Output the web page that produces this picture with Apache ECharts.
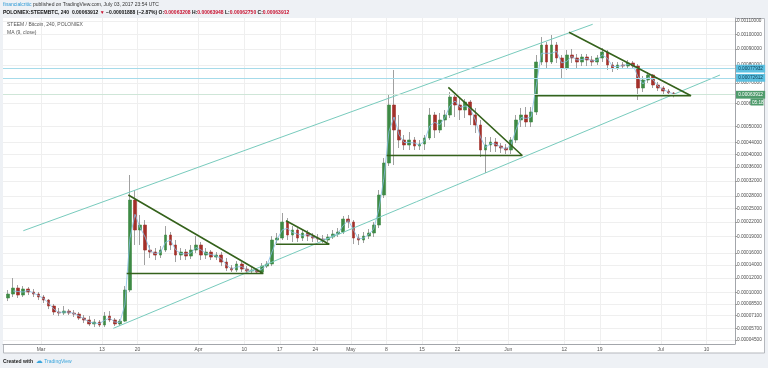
<!DOCTYPE html>
<html><head><meta charset="utf-8">
<script src="https://cdn.jsdelivr.net/npm/echarts@6/dist/echarts.min.js"></script>
<style>html,body{margin:0;padding:0;background:#eef1f5;}#c{width:768px;height:368px;}</style>
</head><body><div id="c"></div>
<script>
// ---- data (prices in satoshi, 1e-8 BTC), daily bars starting at firstDate ----
const firstDate = '2017-02-22';
const axisOrigin = '2017-03-01';
const open = [
 9250,9770,10580,9640,10450,10040,9770,9380,8990,8240,
 7520,7400,7630,7400,7280,6820,6600,6160,6370,6050,
 7050,6600,6160,6480,10310,26980,20310,21330,16530,16180,
 15660,16530,19320,17430,15660,16180,15490,16530,17430,15660,
 16180,15320,15660,14490,13530,13220,14170,13370,13060,13220,
 12910,13840,14170,18360,18740,21960,19320,20310,18740,19710,
 19120,18740,18550,18360,18930,19510,19910,22600,21960,18740,
 18360,19120,19710,21330,28220,37220,59180,48690,44950,43170,
 44950,42820,43520,45680,54780,48690,52680,54780,62910,59180,
 56940,60550,54780,50650,41450,43170,44230,42820,42130,41450,
 44950,52680,54780,51860,56070,81730,92550,81730,92550,84180,
 78200,86040,84180,81730,84790,82950,81730,84180,87950,79950,
 78200,79950,79350,81140,79350,67350,71520,74240,68890,67350,
 65830,64850];
const close = [
 9770,10580,9640,10450,10040,9770,9380,8990,8240,7520,
 7400,7630,7400,7280,6820,6600,6160,6370,6050,7050,
 6600,6160,6480,10310,26980,20310,21330,16530,16180,15660,
 16530,19320,17430,15660,16180,15490,16530,17430,15660,16180,
 15320,15660,14490,13530,13220,14170,13370,13060,13220,12910,
 13840,14170,18360,18740,21960,19320,20310,18740,19710,19120,
 18740,18550,18360,18930,19510,19910,22600,21960,18740,18360,
 19120,19710,21330,28220,37220,59180,48690,44950,43170,44950,
 42820,43520,45680,54780,48690,52680,54780,62910,59180,56940,
 60550,54780,50650,41450,43170,44230,42820,42130,41450,44950,
 52680,54780,51860,56070,81730,92550,81730,92550,84180,78200,
 86040,84180,81730,84790,82950,81730,84180,87950,79950,78200,
 79950,79350,81140,79350,67350,71520,74240,68890,67350,65830,
 64850,63912];
const low = [
 8860,9380,9250,9380,9640,9380,8990,8610,7870,7170,
 7050,7170,7170,6940,6600,6260,5940,5830,5830,5830,
 6370,5940,5940,6370,10040,17430,17430,14010,15160,14820,
 15160,16180,16530,14490,14820,14820,14990,16010,14820,14990,
 14820,14820,13840,13060,12910,12910,12910,12760,12610,12610,
 12760,13530,13840,17800,18360,18360,17980,17980,18170,18170,
 17980,17980,17800,17980,18550,18930,19510,20710,17610,17430,
 17800,18550,18930,20710,27470,36290,36600,42130,41450,41450,
 41450,41450,41450,44950,45680,47540,49860,53510,53930,52680,
 53510,50650,47540,39130,34210,40770,40770,40440,40110,40110,
 43880,49860,49860,49860,54780,79950,78200,80540,81140,72600,
 77050,81140,78200,79350,79350,79350,79950,81730,77050,75910,
 77050,77620,78200,77620,61490,65340,69930,67350,65830,64360,
 63380,62750];
const high = [
 10310,12010,11000,10860,10720,10450,10040,9640,9120,8490,
 8000,8240,7870,7750,7520,7170,7050,6710,6600,7520,
 7630,6820,6710,10860,33630,29510,23480,22390,17430,16890,
 17250,21120,19910,18360,16890,16710,17430,19120,17980,16890,
 16530,16180,16180,15160,14010,14650,14490,13840,13690,13530,
 14330,14650,19120,19710,23930,22820,21120,20710,20510,20310,
 19710,19510,19320,19510,20310,20710,23260,23480,22390,19510,
 19910,20510,21960,29510,38810,63870,77050,54780,46790,47920,
 46050,44950,46790,57830,56070,55640,56940,65340,64360,62910,
 61960,61490,57830,52680,46050,46050,45680,43880,43520,46050,
 54780,57830,58270,58270,86040,98070,94580,99490,94580,86040,
 89240,89900,86680,86680,86680,85410,86040,90560,89240,81730,
 81730,81730,82950,82330,80540,73680,75910,74800,70460,68360,
 66850,65340];
const maPeriod = 2;            // 9 x 4h bars ~ 1.5 days on daily bars
const lastBar = {open: 63208, high: 63948, low: 62750, close: 63912, change: -1888};
const alertLevels = [77932, 72612];
const priceTicks = [110000,100000,90000,80000,70000,60000,50000,44000,40000,36000,32000,
  28000,25000,22000,19000,16000,14000,12000,10000,8500,7100,5700,4500];
const dateTickDays = [0,12,19,31,40,47,54,61,68,75,82,92,103,110,122,131];
const dateTickLabels = ['Mar','13','20','Apr','10','17','24','May','8','15','22','Jun','12','19','Jul','10'];
// drawings: [day since Mar 1, price in satoshi]
const channelUpper = [[-3.48,20170],[108.6,107450]];
const channelLower = [[14.23,5690],[133.66,74240]];
const triangles = [
  [[16.87,12680],[43.76,12680],[17.19,28220]],
  [[46.26,17560],[56.75,17560],[48.23,22240]],
  [[68.05,39610],[94.74,39610],[80.18,67710]],
  [[97.24,63530],[127.95,63530],[103.94,101450]]
];

// ---- scale helpers ----
const LOG_OFFSET = 10600; // price-scale offset (satoshi)
const T = s => Math.log(s + LOG_OFFSET);
const fmt = s => (s / 1e8).toFixed(8);
const DAY = 86400000;
const startOffset = (Date.parse(firstDate) - Date.parse(axisOrigin)) / DAY;
const xOf = i => startOffset + i + 0.5;

const wickData = open.map((o, i) => [xOf(i), T(o), T(close[i]), T(low[i]), T(high[i])]);
const bodyData = open.map((o, i) => [xOf(i), T(o), T(close[i]), T(Math.min(o, close[i])), T(Math.max(o, close[i]))]);
const maData = close.map((c, i) => {
  if (i < maPeriod - 1) return [xOf(i), null];
  let s = 0; for (let k = 0; k < maPeriod; k++) s += close[i - k];
  return [xOf(i), T(s / maPeriod)];
});
const toPts = arr => arr.map(p => [p[0], T(p[1])]);

const FONT = 'Liberation Sans, Arial, sans-serif';
const chart = echarts.init(document.getElementById('c'), null, {renderer: 'canvas'});

const drawSeries = [];
drawSeries.push({type:'line', data: toPts(channelUpper), symbol:'none', silent:true, z:4,
  lineStyle:{color:'#78cbbd', width:1}});
drawSeries.push({type:'line', data: toPts(channelLower), symbol:'none', silent:true, z:4,
  lineStyle:{color:'#78cbbd', width:1}});
triangles.forEach(tr => drawSeries.push({type:'line', data: toPts(tr), symbol:'none', silent:true, z:5,
  lineStyle:{color:'#35621c', width:1.6}}));

const header2 = '{b|POLONIEX:STEEMBTC, 240  ' + fmt(lastBar.close) + ' }{r|▼}{b| −' + fmt(-lastBar.change) +
  ' (−' + (-lastBar.change / (lastBar.close - lastBar.change) * 100).toFixed(2) + '%) O:}{r|' + fmt(lastBar.open) +
  '}{b| H:}{r|' + fmt(lastBar.high) + '}{b| L:}{r|' + fmt(lastBar.low) + '}{b| C:}{r|' + fmt(lastBar.close) + '}';

const option = {
  animation: false,
  backgroundColor: '#eef1f5',
  textStyle: {fontFamily: FONT},
  grid: {left: 3, right: 33, top: 18, bottom: 24, show: true, backgroundColor: '#ffffff', borderWidth: 0},
  xAxis: {
    type: 'value', min: -7.48, max: 136.614,
    axisLine: {show: true, onZero: false, lineStyle: {color: '#a3a6ab', width: 1}},
    axisTick: {show: false, customValues: dateTickDays},
    axisLabel: {customValues: dateTickDays, fontSize: 5, color: '#555', margin: 3,
      formatter: v => { const k = dateTickDays.indexOf(Math.round(v)); return k >= 0 ? dateTickLabels[k] : ''; }},
    splitLine: {show: true, lineStyle: {color: '#efefef', width: 1}}
  },
  yAxis: {
    type: 'value', position: 'right', min: 9.5964, max: 11.71977, scale: true,
    axisLine: {show: true, onZero: false, lineStyle: {color: '#a3a6ab', width: 1}},
    axisTick: {show: true, length: 2, lineStyle: {color: '#999'}, customValues: priceTicks.map(T)},
    axisLabel: {customValues: priceTicks.map(T), fontSize: 4.7, color: '#4d4d4d', margin: 2,
      formatter: v => fmt(Math.round(Math.exp(v) - LOG_OFFSET))},
    splitLine: {show: true, lineStyle: {color: '#efefef', width: 1}}
  },
  graphic: [
    {type:'rect', z:-10, shape:{x:3.5, y:18.5, width:761, height:334.5}, style:{fill:'#fff', stroke:'#b5b8bd', lineWidth:1}},
    {type:'text', x:3, y:2.5, z:10, style:{text:'{u|financialcritic} published on TradingView.com, July 03, 2017 23:54 UTC',
      fill:'#333', fontSize:5, fontFamily:FONT, rich:{u:{fill:'#2d9ad6', fontSize:5, fontFamily:FONT}}}},
    {type:'text', x:3, y:10.5, z:10, style:{text: header2, fontSize:5, fontFamily:FONT,
      rich:{b:{fill:'#111', fontWeight:'bold', fontSize:5, fontFamily:FONT}, r:{fill:'#c8102e', fontWeight:'bold', fontSize:5, fontFamily:FONT}}}},
    {type:'text', x:7, y:22.5, z:10, style:{text:'STEEM / Bitcoin, 240, POLONIEX', fill:'#555', fontSize:5, fontFamily:FONT}},
    {type:'text', x:7, y:30.5, z:10, style:{text:'MA (9, close)', fill:'#555', fontSize:5, fontFamily:FONT}},
    {type:'rect', z:10, shape:{x:750.5, y:98.5, width:13, height:7}, style:{fill:'#4f9b6c'}},
    {type:'text', x:752, y:99.8, z:11, style:{text:'05:18', fill:'#fff', fontSize:4.7, fontFamily:FONT}},
    {type:'text', x:3, y:358, z:10, style:{text:'{b|Created with}  {l|☁} {t|TradingView}', fontSize:5, fontFamily:FONT,
      rich:{b:{fill:'#222', fontWeight:'bold', fontSize:5, fontFamily:FONT}, l:{fill:'#3aa6dd', fontSize:7, fontFamily:'DejaVu Sans'},
            t:{fill:'#3aa6dd', fontSize:5, fontFamily:FONT}}}}
  ],
  series: [
    {type:'candlestick', name:'wicks', data: wickData, encode:{x:0, y:[1,2,3,4]}, barWidth: 1, z:2, silent:true,
      itemStyle:{color:'#a0a0a0', color0:'#a0a0a0', borderColor:'#a0a0a0', borderColor0:'#a0a0a0', borderColorDoji:'#a0a0a0', borderWidth:1},
      markLine:{silent:true, symbol:'none', animation:false,
        label:{show:true, position:'end', distance:1, fontSize:4.7, fontFamily:FONT, padding:[1.6,2.2,1.2,2.2]},
        data:[
          {yAxis:T(alertLevels[0]), lineStyle:{color:'#a6dbea', width:1, type:'solid'},
            label:{formatter: fmt(alertLevels[0]), backgroundColor:'#5cc0e0', color:'#0c3d55'}},
          {yAxis:T(alertLevels[1]), lineStyle:{color:'#a6dbea', width:1, type:'solid'},
            label:{formatter: fmt(alertLevels[1]), backgroundColor:'#5cc0e0', color:'#0c3d55'}},
          {yAxis:T(lastBar.close), lineStyle:{color:'#cfe6d8', width:1, type:'solid'},
            label:{formatter: fmt(lastBar.close), backgroundColor:'#4f9b6c', color:'#ffffff'}}
        ]}},
    {type:'candlestick', name:'bodies', data: bodyData, encode:{x:0, y:[1,2,3,4]}, barWidth: 3.2, z:3, silent:true,
      itemStyle:{color:'#3e8a45', color0:'#a3302a', borderColor:'#3e8a45', borderColor0:'#a3302a', borderColorDoji:'#3e8a45', borderWidth:0.6}},
    {type:'line', name:'MA (9, close)', data: maData, symbol:'none', silent:true, z:3.5, connectNulls:false,
      lineStyle:{color:'#86bfe6', width:0.9, opacity:0.9}},
    ...drawSeries
  ]
};
chart.setOption(option);
</script></body></html>
